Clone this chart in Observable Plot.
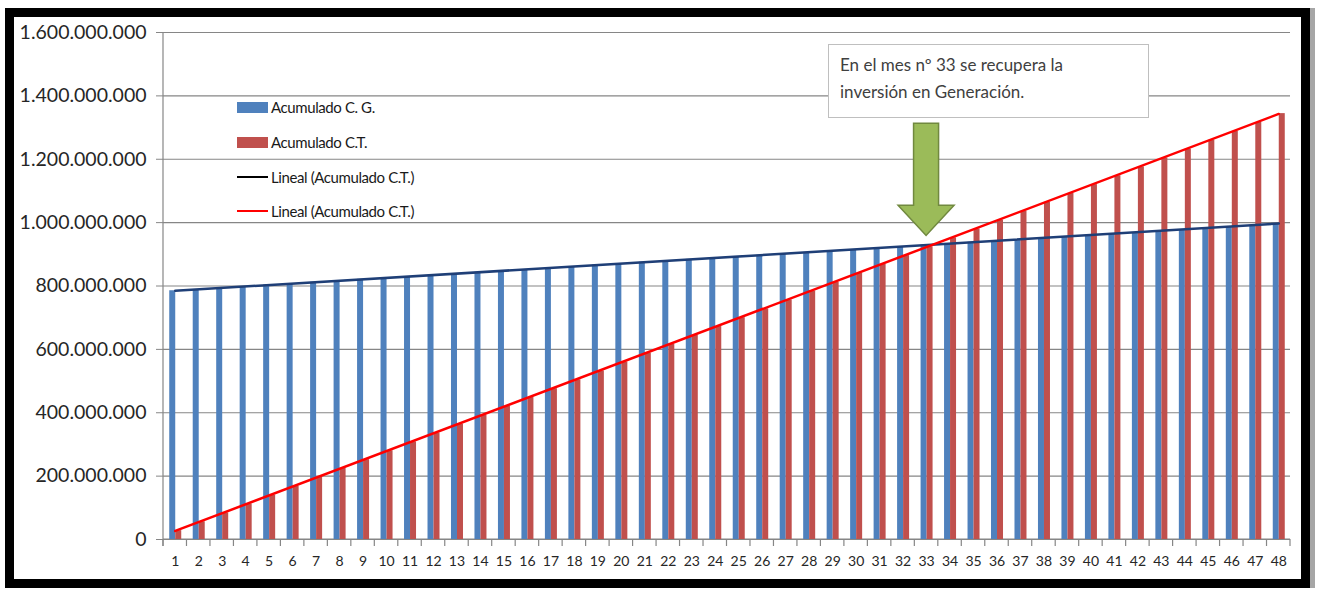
<!DOCTYPE html>
<html><head><meta charset="utf-8">
<script src="https://cdn.jsdelivr.net/npm/d3@7"></script>
<script src="https://cdn.jsdelivr.net/npm/@observablehq/plot@0.6"></script>
<style>
body{margin:0;background:#fff;font-family:Lato, "Open Sans", sans-serif;}
#wrap{position:relative;width:1318px;height:590px;overflow:hidden;background:#fff;}
#frame{position:absolute;left:5px;top:8px;width:1305px;height:580px;box-sizing:border-box;border:9px solid #000;box-shadow:5px 0 0 #a6a6a6;}
#chart{position:absolute;left:0;top:0;}
.li{position:absolute;left:237px;height:20px;display:flex;align-items:center;font-size:15px;letter-spacing:-0.4px;color:#1a1a1a;white-space:nowrap;}
.sw{display:inline-block;width:31px;height:11px;margin-right:3px;}
.ln{display:inline-block;width:31px;height:2px;margin-right:3px;}
#note{position:absolute;left:828px;top:44px;width:321px;height:74px;box-sizing:border-box;border:1px solid #bfbfbf;background:#fff;padding:6px 0 0 11px;font-size:17px;line-height:27px;color:#404040;}
</style></head><body>
<div id="wrap">
<div id="frame"></div>
<div id="chart"></div>
<div class="li" style="top:97px"><span class="sw" style="background:#4F81BD"></span>Acumulado C. G.</div>
<div class="li" style="top:132px"><span class="sw" style="background:#C0504D"></span>Acumulado C.T.</div>
<div class="li" style="top:167px"><span class="ln" style="background:#000"></span>Lineal (Acumulado C.T.)</div>
<div class="li" style="top:201px"><span class="ln" style="background:#FF0000"></span>Lineal (Acumulado C.T.)</div>
<div id="note">En el mes nº 33 se recupera la<br>inversión en Generación.</div>
</div>
<script>
// Categories: months 1..48
const months = [1,2,3,4,5,6,7,8,9,10,11,12,13,14,15,16,17,18,19,20,21,22,23,24,
  25,26,27,28,29,30,31,32,33,34,35,36,37,38,39,40,41,42,43,44,45,46,47,48];
// Acumulado C. G. (millions)
const acumCG = [785,789,794,798,803,807,812,816,821,825,830,834,839,843,848,852,857,861,866,870,875,879,884,888,
  893,897,902,906,911,915,920,924,929,933,938,942,947,951,956,960,965,969,974,978,983,987,992,996];
// Acumulado C.T. (millions)
const acumCT = [28,56,84,112,140,168,196,224,252,280,308,336,364,392,420,448,476,504,532,560,588,616,644,672,
  700,728,756,784,812,840,868,896,924,952,980,1008,1036,1064,1092,1120,1148,1176,1204,1232,1260,1288,1316,1344];
// Linear trend lines (endpoints)
const trendMonths = [1, 48];
const trendCG = [785e6, 997e6];
const trendCT = [27e6, 1343e6];
// Y tick values
const yTicks = [0,200e6,400e6,600e6,800e6,1000e6,1200e6,1400e6,1600e6];
// Annotation
const noteMonth = 33;
const arrowVals = [1312e6, 1053e6, 958e6]; // top of shaft, start of head, tip

const data = months.map((m,i)=>({month:m, cg:acumCG[i]*1e6, ct:acumCT[i]*1e6}));
const trend = trendMonths.map((m,i)=>({month:m, cg:trendCG[i], ct:trendCT[i]}));

const W=1318,H=590,ML=163,MR=28,MT=32,MB=51;
const step=(W-ML-MR)/months.length;
const c=step/2;
const fmt = d3.formatLocale({decimal:",",thousands:".",grouping:[3],currency:["",""]}).format(",");

function axesLines(index, scales, values, dim){
  const g=d3.create("svg:g").attr("stroke","#868686").attr("stroke-width",1.2).attr("fill","none");
  const x0=dim.marginLeft, x1=dim.width-dim.marginRight, yb=dim.height-dim.marginBottom;
  g.append("line").attr("x1",x0).attr("x2",x0).attr("y1",dim.marginTop).attr("y2",yb+7);
  g.append("line").attr("x1",x0).attr("x2",x1).attr("y1",yb).attr("y2",yb);
  const bw=(x1-x0)/months.length;
  for(let i=0;i<=months.length;i++){
    const x=x0+i*bw;
    g.append("line").attr("x1",x).attr("x2",x).attr("y1",yb).attr("y2",yb+7);
  }
  return g.node();
}
function arrow(index, scales, values, dim){
  const bw=(dim.width-dim.marginLeft-dim.marginRight)/months.length;
  const cx=scales.x(noteMonth)+bw/2;
  const yT=scales.y(arrowVals[0]), yH=scales.y(arrowVals[1]), yP=scales.y(arrowVals[2]);
  const sw=12.5, hw=28;
  const p=`M${cx-sw},${yT}L${cx+sw},${yT}L${cx+sw},${yH}L${cx+hw},${yH}L${cx},${yP}L${cx-hw},${yH}L${cx-sw},${yH}Z`;
  const g=d3.create("svg:g");
  g.append("path").attr("d",p).attr("fill","#9BBB59").attr("stroke","#71893F").attr("stroke-width",1.5).attr("stroke-linejoin","miter");
  return g.node();
}

const chart = Plot.plot({
  width:W,height:H,marginLeft:ML,marginRight:MR,marginTop:MT,marginBottom:MB,
  style:{fontFamily:"Lato, 'Open Sans', sans-serif", background:"transparent", overflow:"visible"},
  x:{type:"band", domain:months, padding:0, round:false, label:null},
  y:{domain:[0,1.6e9], label:null},
  marks:[
    Plot.gridY(yTicks,{stroke:"#868686", strokeOpacity:1, strokeWidth:1.2}),
    Plot.axisY(yTicks,{tickFormat:fmt, tickSize:7, tickPadding:10, stroke:"#868686", fontSize:19.5, fill:"#262626", label:null}),
    Plot.axisX({tickSize:0, tickPadding:17, fontSize:14, fill:"#262626", label:null}),
    axesLines,
    Plot.barY(data,{x:"month", y:"cg", fill:"#4F81BD", insetLeft:c-5.5, insetRight:c-0.5}),
    Plot.barY(data,{x:"month", y:"ct", fill:"#C0504D", insetLeft:c+0.5, insetRight:c-6.5}),
    Plot.line(trend,{x:"month", y:"cg", stroke:"#1F3F77", strokeWidth:2.5}),
    Plot.line(trend,{x:"month", y:"ct", stroke:"#FF0000", strokeWidth:2.5}),
    arrow
  ]
});
document.getElementById("chart").appendChild(chart);
</script>
</body></html>
